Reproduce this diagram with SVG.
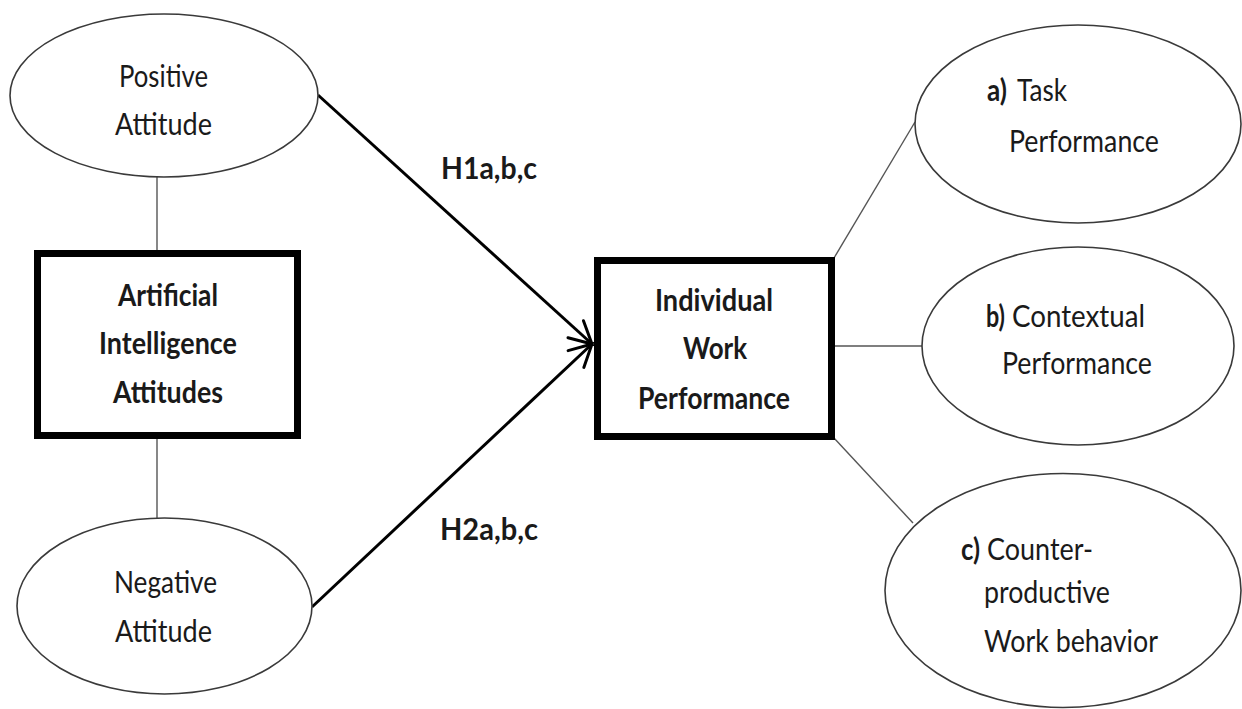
<svg xmlns="http://www.w3.org/2000/svg" width="1242" height="709" viewBox="0 0 1242 709">
<defs>
<style>
.ell{fill:#fff;stroke:#3a3a3a;stroke-width:1.6}
.box{fill:#fff;stroke:#000;stroke-width:7}
.thin{stroke:#555;stroke-width:1.4;fill:none}
.arrow{stroke:#000;stroke-width:3;fill:none}
text{font-family:Lato,"Liberation Sans",Arial,sans-serif;font-size:30px;fill:#1a1a1a}
.c{text-anchor:middle}
.b{font-weight:bold}
</style>
<marker id="open" markerUnits="userSpaceOnUse" markerWidth="40" markerHeight="40" refX="0" refY="0" viewBox="-30 -20 40 40" orient="auto" overflow="visible">
<path d="M -22 -11.5 L 0 0 L -22 11.5" stroke="#000" stroke-width="3" fill="none" stroke-linecap="round"/>
</marker>
</defs>
<rect width="1242" height="709" fill="#fff"/>
<g id="connectors">
<line class="thin" x1="157" y1="177" x2="157" y2="252"/>
<line class="thin" x1="157" y1="437" x2="157" y2="518"/>
<line class="thin" x1="834" y1="258" x2="915" y2="122"/>
<line class="thin" x1="834" y1="346" x2="922" y2="346"/>
<line class="thin" x1="834" y1="438" x2="913" y2="523"/>
<line class="arrow" x1="318" y1="95" x2="592" y2="344" marker-end="url(#open)"/>
<line class="arrow" x1="312" y1="607" x2="592" y2="344" marker-end="url(#open)"/>
<text id="label-h1" class="b" x="441" y="179" textLength="96" lengthAdjust="spacingAndGlyphs">H1a,b,c</text>
<text id="label-h2" class="b" x="440" y="540" textLength="98" lengthAdjust="spacingAndGlyphs">H2a,b,c</text>
</g>
<g id="positive-attitude">
<ellipse class="ell" cx="164" cy="95.5" rx="154" ry="81.5"/>
<text class="c" x="163.5" y="87" textLength="89" lengthAdjust="spacingAndGlyphs">Positive</text>
<text class="c" x="163.5" y="135" textLength="97" lengthAdjust="spacingAndGlyphs">Attitude</text>
</g>
<g id="ai-attitudes">
<rect class="box" x="37.5" y="253.5" width="260" height="182"/>
<text class="c b" x="168" y="306" textLength="100" lengthAdjust="spacingAndGlyphs">Artificial</text>
<text class="c b" x="168" y="354" textLength="138" lengthAdjust="spacingAndGlyphs">Intelligence</text>
<text class="c b" x="168" y="403" textLength="110" lengthAdjust="spacingAndGlyphs">Attitudes</text>
</g>
<g id="negative-attitude">
<ellipse class="ell" cx="164.5" cy="606" rx="147.5" ry="88"/>
<text class="c" x="165.5" y="593" textLength="103" lengthAdjust="spacingAndGlyphs">Negative</text>
<text class="c" x="163.5" y="642" textLength="97" lengthAdjust="spacingAndGlyphs">Attitude</text>
</g>
<g id="individual-work-performance">
<rect class="box" x="597.5" y="260.5" width="234" height="176"/>
<text class="c b" x="714" y="311" textLength="118" lengthAdjust="spacingAndGlyphs">Individual</text>
<text class="c b" x="715" y="359" textLength="64" lengthAdjust="spacingAndGlyphs">Work</text>
<text class="c b" x="714" y="409" textLength="152" lengthAdjust="spacingAndGlyphs">Performance</text>
</g>
<g id="task-performance">
<ellipse class="ell" cx="1078" cy="124" rx="163" ry="99"/>
<text y="101"><tspan class="b" x="987" textLength="20" lengthAdjust="spacingAndGlyphs">a)</tspan> <tspan x="1017" textLength="50" lengthAdjust="spacingAndGlyphs">Task</tspan></text>
<text x="1009" y="152" textLength="150" lengthAdjust="spacingAndGlyphs">Performance</text>
</g>
<g id="contextual-performance">
<ellipse class="ell" cx="1078" cy="346" rx="156" ry="99"/>
<text y="327"><tspan class="b" x="986" textLength="19" lengthAdjust="spacingAndGlyphs">b)</tspan> <tspan x="1012" textLength="133" lengthAdjust="spacingAndGlyphs">Contextual</tspan></text>
<text x="1002" y="374" textLength="150" lengthAdjust="spacingAndGlyphs">Performance</text>
</g>
<g id="counterproductive-work-behavior">
<ellipse class="ell" cx="1063" cy="590.5" rx="178" ry="117"/>
<text y="560"><tspan class="b" x="961" textLength="19" lengthAdjust="spacingAndGlyphs">c)</tspan> <tspan x="987" textLength="106" lengthAdjust="spacingAndGlyphs">Counter-</tspan></text>
<text x="984" y="603" textLength="126" lengthAdjust="spacingAndGlyphs">productive</text>
<text x="984" y="652" textLength="174" lengthAdjust="spacingAndGlyphs">Work behavior</text>
</g>
</svg>
